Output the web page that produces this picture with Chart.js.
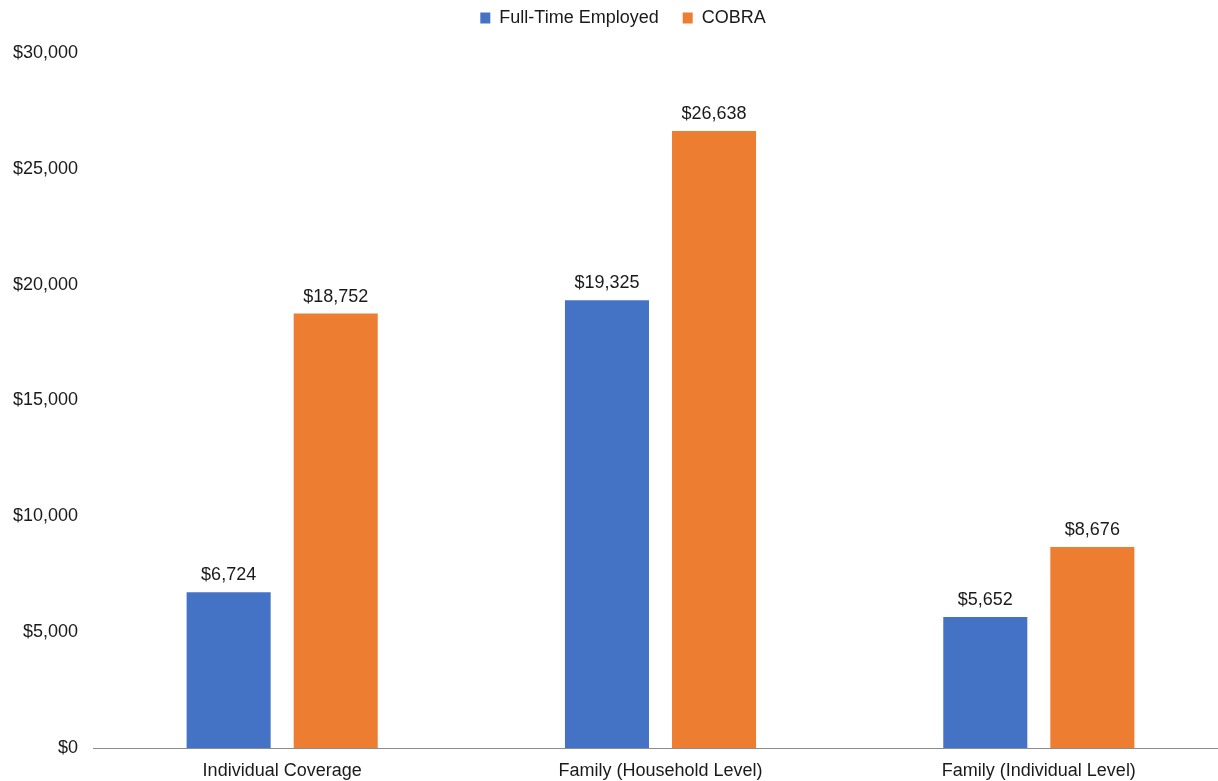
<!DOCTYPE html>
<html><head><meta charset="utf-8">
<script src="https://cdn.jsdelivr.net/npm/chart.js@4/dist/chart.umd.min.js"></script>
<style>html,body{margin:0;padding:0;background:#fff;overflow:hidden}#wrap{width:1228px;height:781px}</style>
</head><body><div id="wrap"><canvas id="c"></canvas></div>
<script>
const categories = ["Individual Coverage", "Family (Household Level)", "Family (Individual Level)"];
const fullTime = [6724, 19325, 5652];
const cobra = [18752, 26638, 8676];
const seriesNames = ["Full-Time Employed", "COBRA"];
const yTicks = [0, 5000, 10000, 15000, 20000, 25000, 30000];

const fmt = v => '$' + v.toLocaleString('en-US');
const FONT = "'Liberation Sans', Arial, sans-serif";

const labelPlugin = {
  id: 'barLabels',
  afterDatasetsDraw(chart) {
    const ctx = chart.ctx;
    ctx.save();
    ctx.font = '18px ' + FONT;
    ctx.fillStyle = '#1a1a1a';
    ctx.textAlign = 'center';
    ctx.textBaseline = 'bottom';
    chart.data.datasets.forEach((ds, i) => {
      chart.getDatasetMeta(i).data.forEach((bar, j) => {
        ctx.fillText(fmt(ds.data[j]), bar.x, bar.y - 8);
      });
    });
    ctx.restore();
  }
};

const legendTweak = {
  id: 'legendTweak',
  beforeInit(chart) {
    const lg = chart.legend;
    const origFit = lg.fit;
    lg.fit = function () { origFit.call(this); this.height = 53; };
    const origDraw = lg.draw;
    lg.draw = function () {
      const ctx = this.ctx;
      ctx.save();
      ctx.translate(9, -15);
      origDraw.apply(this, arguments);
      ctx.restore();
    };
  }
};

new Chart(document.getElementById('c'), {
  type: 'bar',
  data: {
    labels: categories,
    datasets: [
      { label: seriesNames[0], data: fullTime, backgroundColor: '#4472C4' },
      { label: seriesNames[1], data: cobra, backgroundColor: '#ED7D31' }
    ]
  },
  options: {
    responsive: true,
    maintainAspectRatio: false,
    animation: false,
    categoryPercentage: 0.566,
    barPercentage: 0.785,
    layout: { padding: 0 },
    plugins: {
      legend: {
        position: 'top',
        labels: { boxWidth: 10, boxHeight: 11, font: { size: 18, family: FONT }, color: '#1a1a1a', padding: 24 }
      },
      tooltip: { enabled: false }
    },
    scales: {
      x: {
        afterFit: axis => { axis.height = 33; },
        grid: { display: false, drawTicks: false },
        border: { display: true, color: '#8c8c8c', width: 1 },
        ticks: { font: { size: 18, family: FONT }, color: '#1a1a1a', padding: 12 }
      },
      y: {
        min: 0, max: 30000,
        afterBuildTicks: axis => { axis.ticks = yTicks.map(v => ({ value: v })); },
        afterFit: axis => { axis.width = 93; },
        grid: { display: false, drawTicks: false },
        border: { display: false },
        ticks: { font: { size: 18, family: FONT }, color: '#1a1a1a', padding: 15, callback: v => fmt(v) }
      }
    }
  },
  plugins: [labelPlugin, legendTweak]
});
</script></body></html>
